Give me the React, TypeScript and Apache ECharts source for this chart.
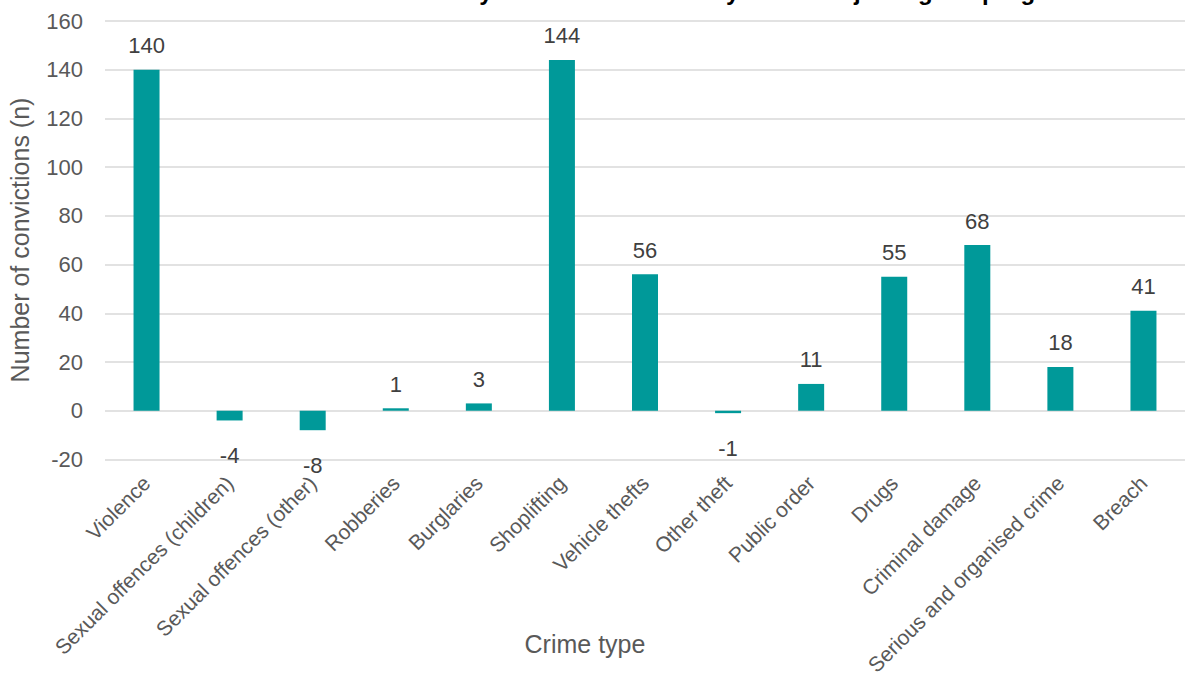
import React, { useEffect, useRef } from "react";
import * as echarts from "echarts";

const categories = [
  "Violence",
  "Sexual offences (children)",
  "Sexual offences (other)",
  "Robberies",
  "Burglaries",
  "Shoplifting",
  "Vehicle thefts",
  "Other theft",
  "Public order",
  "Drugs",
  "Criminal damage",
  "Serious and organised crime",
  "Breach",
];
const values = [140, -4, -8, 1, 3, 144, 56, -1, 11, 55, 68, 18, 41];

const titleText =
  "Figure 6: Difference in number of convictions in the two years before and two years after joining the programme";
const yAxisName = "Number of convictions (n)";
const xAxisName = "Crime type";

const FONT = "'Liberation Sans', Arial, sans-serif";

export default function App() {
  const ref = useRef<HTMLDivElement>(null);
  useEffect(() => {
    if (!ref.current) return;
    const chart = echarts.init(ref.current, null, { renderer: "svg" });
    chart.setOption({
      animation: false,
      textStyle: { fontFamily: FONT },
      grid: { left: 105, right: -4, top: 21, bottom: 217, containLabel: false },
      xAxis: {
        type: "category",
        data: categories,
        axisLine: { show: false },
        axisTick: { show: false },
        axisLabel: {
          interval: 0,
          rotate: 45,
          fontSize: 21,
          color: "#595959",
          margin: 20,
          fontFamily: FONT,
        },
      },
      yAxis: {
        type: "value",
        min: -20,
        max: 160,
        interval: 20,
        axisLine: { show: false },
        axisTick: { show: false },
        splitLine: { lineStyle: { color: "#d9d9d9", width: 1.5 } },
        axisLabel: { fontSize: 22, color: "#595959", margin: 22, fontFamily: FONT },
      },
      series: [
        {
          type: "bar",
          barWidth: 26,
          itemStyle: { color: "#009999" },
          data: values.map((v) => ({
            value: v,
            label: {
              show: true,
              position: v < 0 ? "bottom" : "top",
              distance: v < 0 ? 24 : 13,
              fontSize: 22,
              color: "#404040",
              fontFamily: FONT,
            },
          })),
        },
      ],
      graphic: [
        {
          type: "text",
          x: 1114,
          y: 3,
          style: {
            text: titleText,
            font: `bold 24px ${FONT}`,
            fill: "#000000",
            textAlign: "right",
            textVerticalAlign: "bottom",
          },
        },
        {
          type: "text",
          x: 20,
          y: 240,
          rotation: Math.PI / 2,
          style: {
            text: yAxisName,
            font: `25px ${FONT}`,
            fill: "#595959",
            textAlign: "center",
            textVerticalAlign: "middle",
          },
        },
        {
          type: "text",
          x: 585,
          y: 644,
          style: {
            text: xAxisName,
            font: `25px ${FONT}`,
            fill: "#595959",
            textAlign: "center",
            textVerticalAlign: "middle",
          },
        },
      ],
    });
    return () => chart.dispose();
  }, []);
  return <div ref={ref} style={{ width: 1185, height: 678, position: "absolute", left: 0, top: 0 }} />;
}
